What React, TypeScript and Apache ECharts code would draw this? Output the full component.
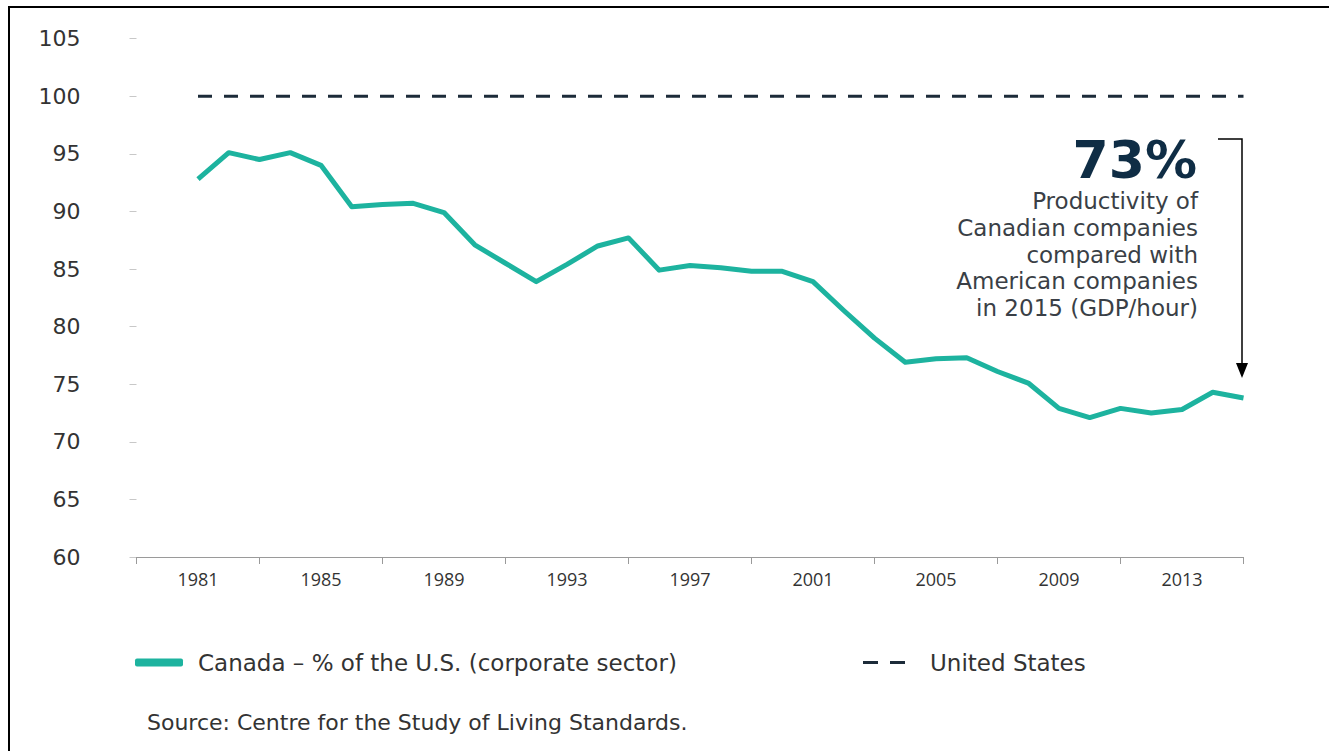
import React, { useEffect, useRef } from "react";
import * as echarts from "echarts";

const years: string[] = [];
for (let y = 1979; y <= 2015; y++) years.push(String(y));

const canadaName = "Canada – % of the U.S. (corporate sector)";
const usName = "United States";

// 1979, 1980 have no data (axis padding)
const canada: (number | null)[] = [
  null, null,
  92.8, 95.1, 94.5, 95.1, 94.0, 90.4, 90.6, 90.7, 89.9, 87.1,
  85.5, 83.9, 85.4, 87.0, 87.7, 84.9, 85.3, 85.1, 84.8, 84.8,
  83.9, 81.4, 79.0, 76.9, 77.2, 77.3, 76.1, 75.1, 72.9, 72.1,
  72.9, 72.5, 72.8, 74.3, 73.8,
];
const unitedStates: (number | null)[] = [
  null, null,
  100, 100, 100, 100, 100, 100, 100, 100, 100, 100,
  100, 100, 100, 100, 100, 100, 100, 100, 100, 100,
  100, 100, 100, 100, 100, 100, 100, 100, 100, 100,
  100, 100, 100, 100, 100,
];

const annotationBig = "73%";
const annotationLines = [
  "Productivity of",
  "Canadian companies",
  "compared with",
  "American companies",
  "in 2015 (GDP/hour)",
];
const sourceText = "Source: Centre for the Study of Living Standards.";

const FONT = "'Open Sans', 'Noto Sans', sans-serif";
const WIDE = "'DejaVu Sans', 'Open Sans', sans-serif";
const TEAL = "#1db39f";
const NAVY = "#1c2b39";

export default function App() {
  const ref = useRef<HTMLDivElement>(null);
  useEffect(() => {
    if (!ref.current) return;
    const chart = echarts.init(ref.current, null, { renderer: "svg" });
    const graphics: any[] = [
      { type: "line", shape: { x1: 8, y1: 7, x2: 1329, y2: 7 }, style: { stroke: "#000", lineWidth: 2 } },
      { type: "line", shape: { x1: 9, y1: 7, x2: 9, y2: 751 }, style: { stroke: "#000", lineWidth: 2 } },
      {
        type: "text",
        x: 1197,
        y: 160,
        style: {
          text: annotationBig,
          textAlign: "right",
          textVerticalAlign: "middle",
          fontSize: 52,
          fontWeight: 800,
          fontFamily: WIDE,
          fill: "#0f2d45",
        },
      },
      ...annotationLines.map((t, i) => ({
        type: "text",
        x: 1198,
        y: 201 + i * 26.8,
        style: {
          text: t,
          textAlign: "right",
          textVerticalAlign: "middle",
          fontSize: 23,
          fontFamily: WIDE,
          fill: "#3a3f46",
        },
      })),
      {
        type: "polyline",
        shape: { points: [[1218, 139], [1242, 139], [1242, 366]] },
        style: { stroke: "#000", lineWidth: 1.5, fill: "none" },
      },
      {
        type: "polygon",
        shape: { points: [[1236, 363], [1248, 363], [1242, 378]] },
        style: { fill: "#000" },
      },
      {
        type: "text",
        x: 147,
        y: 722,
        style: {
          text: sourceText,
          textAlign: "left",
          textVerticalAlign: "middle",
          fontSize: 22,
          fontFamily: WIDE,
          fill: "#333",
        },
      },
    ];
    chart.setOption({
      animation: false,
      backgroundColor: "#fff",
      textStyle: { fontFamily: FONT },
      grid: { left: 136.5, right: 85.5, top: 38.6, bottom: 194, containLabel: false },
      legend: [
        {
          data: [canadaName],
          left: 130,
          top: 646,
          icon: "roundRect",
          itemWidth: 48,
          itemHeight: 8,
          itemStyle: { color: TEAL },
          textStyle: { fontSize: 23, color: "#333", fontFamily: WIDE, padding: [0, 0, 0, 10] },
          selectedMode: false,
        },
        {
          data: [usName],
          left: 858,
          top: 646,
          icon: "path://M0,0H15V3H0Z M27,0H42V3H27Z",
          itemWidth: 42,
          itemHeight: 3,
          itemStyle: { color: NAVY },
          textStyle: { fontSize: 23, color: "#333", fontFamily: WIDE, padding: [0, 0, 0, 20] },
          selectedMode: false,
        },
      ],
      xAxis: {
        type: "category",
        data: years,
        boundaryGap: false,
        axisLine: { show: true, lineStyle: { color: "#9a9a9a", width: 1 } },
        axisTick: {
          show: true,
          length: 7,
          interval: (i: number) => i % 4 === 0,
          lineStyle: { color: "#9a9a9a" },
        },
        axisLabel: {
          interval: (i: number) => i % 4 === 2,
          fontSize: 18,
          color: "#333",
          margin: 13,
          fontFamily: FONT,
        },
        splitLine: { show: false },
      },
      yAxis: {
        type: "value",
        min: 60,
        max: 105,
        interval: 5,
        axisLine: { show: false },
        axisTick: { show: true, length: 7, inside: false, lineStyle: { color: "#c8c8c8" } },
        axisLabel: { fontSize: 22, color: "#333", margin: 56, fontFamily: WIDE },
        splitLine: { show: false },
      },
      series: [
        {
          name: canadaName,
          type: "line",
          data: canada,
          symbol: "none",
          lineStyle: { color: TEAL, width: 5, join: "round" },
          itemStyle: { color: TEAL },
        },
        {
          name: usName,
          type: "line",
          data: unitedStates,
          symbol: "none",
          lineStyle: { color: NAVY, width: 3, type: [14, 12] },
          itemStyle: { color: NAVY },
        },
      ],
      graphic: graphics,
    });
    return () => chart.dispose();
  }, []);
  return (
    <div
      ref={ref}
      style={{ position: "fixed", left: 0, top: 0, width: 1329, height: 751, background: "#fff" }}
    />
  );
}
